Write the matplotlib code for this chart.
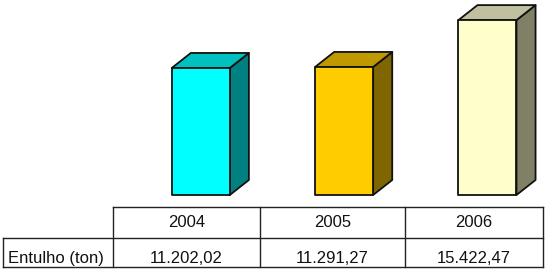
import matplotlib
matplotlib.use("Agg")
import matplotlib.pyplot as plt
from matplotlib.patches import Polygon

years = ["2004", "2005", "2006"]
values = [11202.02, 11291.27, 15422.47]
value_labels = ["11.202,02", "11.291,27", "15.422,47"]
row_label = "Entulho (ton)"

front_colors = ["#00FFFF", "#FFCC00", "#FFFFCC"]
side_colors = ["#008080", "#806600", "#808066"]
top_colors = ["#00C0C0", "#C09900", "#C0C0A0"]

plt.rcParams['font.family'] = ['Liberation Sans', 'DejaVu Sans']

W, H = 550, 270
fig = plt.figure(figsize=(5.5, 2.7), dpi=100)
fig.patch.set_facecolor("white")

# bar axes: x from pixel 113 to 543, baseline at pixel y=195 (from top)
bx0, bx1 = 113, 543
base_y = 195
ax = fig.add_axes([bx0 / W, (H - base_y) / H, (bx1 - bx0) / W, base_y / H])
ymax = base_y / 0.01134
ax.set_xlim(0, 3)
ax.set_ylim(0, ymax)
ax.axis("off")

bw = 0.405
dx = 0.133
dy = 15 / 0.01134
ec = "#111111"
lw = 1.3
for i, v in enumerate(values):
    x0 = i + 0.41
    x1 = x0 + bw
    front = Polygon([(x0, 0), (x1, 0), (x1, v), (x0, v)], closed=True,
                    facecolor=front_colors[i], edgecolor=ec, lw=lw, joinstyle="round")
    side = Polygon([(x1, 0), (x1 + dx, dy), (x1 + dx, v + dy), (x1, v)], closed=True,
                   facecolor=side_colors[i], edgecolor=ec, lw=lw, joinstyle="round")
    top = Polygon([(x0, v), (x1, v), (x1 + dx, v + dy), (x0 + dx, v + dy)], closed=True,
                  facecolor=top_colors[i], edgecolor=ec, lw=lw, joinstyle="round")
    for p in (side, top, front):
        p.set_clip_on(False)
        ax.add_patch(p)

# table axes in pixel coords
tax = fig.add_axes([0, 0, 1, 1], zorder=-1)
tax.set_xlim(0, W)
tax.set_ylim(H, 0)
tax.axis("off")

cols = [113, 260, 405, 543]
left = 3
ytop, ymid, ybot = 207, 237.5, 267
tc = "#222222"
tlw = 1.0
tax.plot([cols[0], cols[-1]], [ytop, ytop], color=tc, lw=tlw)
tax.plot([left, cols[-1]], [ymid, ymid], color=tc, lw=tlw)
tax.plot([left, cols[-1]], [ybot, ybot], color=tc, lw=tlw)
tax.plot([left, left], [ymid, ybot], color=tc, lw=tlw)
for c in cols:
    tax.plot([c, c], [ytop, ybot], color=tc, lw=tlw)

fs = 12
for i in range(3):
    cx = (cols[i] + cols[i + 1]) / 2
    tax.text(cx, 226.7, years[i], ha="center", va="baseline", fontsize=fs, color="#111111")
    tax.text(cx, 263.0, value_labels[i], ha="center", va="baseline", fontsize=fs, color="#111111")
tax.text(8, 263.0, row_label, ha="left", va="baseline", fontsize=fs, color="#111111")

fig.savefig("out.png", dpi=100, facecolor="white")
